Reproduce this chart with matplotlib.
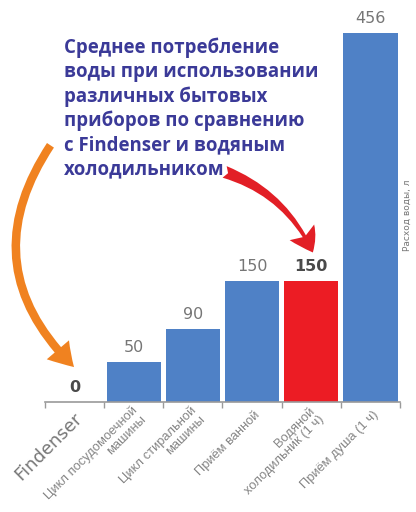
import matplotlib
matplotlib.use("Agg")
import matplotlib.pyplot as plt
from matplotlib.patches import FancyArrowPatch
import matplotlib.transforms as mtransforms
import numpy as np

# data
categories = ["Findenser",
              "Цикл посудомоечной\nмашины",
              "Цикл стиральной\nмашины",
              "Приём ванной",
              "Водяной\nхолодильник (1 ч)",
              "Приём душа (1 ч)"]
values = [0, 50, 90, 150, 150, 456]
highlight = 4  # водяной холодильник
title_lines = ["Среднее потребление",
               "воды при использовании",
               "различных бытовых",
               "приборов по сравнению",
               "с Findenser и водяным",
               "холодильником"]
ylabel = "Расход воды, л"

blue = "#4f81c6"
red = "#ec1c24"
ink = "#3b3a98"

W, H = 416, 512
fig = plt.figure(figsize=(W / 100, H / 100), dpi=100)
fig.patch.set_facecolor("white")
# axes in pixel terms: x 45..400, baseline y=402, top (456) at y=33
ax = fig.add_axes([45 / W, 1 - 402 / H, 355 / W, 369 / H])

x = np.arange(len(values))
colors = [red if i == highlight else blue for i in range(len(values))]
bars = ax.bar(x, values, width=0.92, color=colors, zorder=2)

for i, (b, v) in enumerate(zip(bars, values)):
    bold = i == 0 or i == highlight
    ax.annotate(str(v), (b.get_x() + b.get_width() / 2, v),
                xytext=(0, 5), textcoords="offset points",
                ha="center", va="bottom", fontsize=11.5,
                color="#4a4a4a" if bold else "#767676",
                fontweight="bold" if bold else "normal",
                annotation_clip=False)

ax.set_xlim(-0.5, len(values) - 0.5)
ax.set_ylim(0, 456)
for s in ["top", "left", "right"]:
    ax.spines[s].set_visible(False)
ax.spines["bottom"].set_color("#9a9a9a")
ax.spines["bottom"].set_linewidth(1.2)
ax.set_yticks([])
ax.set_xticks(np.arange(len(values) + 1) - 0.5)
ax.set_xticklabels([])
ax.tick_params(axis="x", length=4, color="#9a9a9a", width=1)

# rotated category labels
for i, lab in enumerate(categories):
    if i == 0:
        off = mtransforms.offset_copy(ax.get_xaxis_transform(), fig=fig,
                                      x=-1, y=-5, units="points")
        ax.text(i, 0, lab, transform=off, rotation=45, rotation_mode="anchor",
                ha="right", va="top", fontsize=13, color="#777777")
    else:
        off = mtransforms.offset_copy(ax.get_xaxis_transform(), fig=fig,
                                      x=4.5, y=-8, units="points")
        ax.text(i, 0, lab, transform=off, rotation=45, rotation_mode="anchor",
                ha="right", va="center", multialignment="right",
                fontsize=9.3, color="#858585", linespacing=1.0,
                family="Liberation Sans")

ax.text(1.02, 0.507, ylabel, transform=ax.transAxes, rotation=90,
        ha="center", va="center", fontsize=6.5, color="#777777")

# title block
fig.text(64 / W, 1 - 38 / H, "\n".join(title_lines), ha="left", va="top",
         fontsize=13.4, fontweight="bold", color=ink, linespacing=1.26,
         family="Open Sans")

# arrows (figure pixel coordinates)
px = mtransforms.Affine2D().scale(1 / W, 1 / H) + fig.transFigure
orange = FancyArrowPatch((52, H - 143), (76, H - 369), transform=px,
                         connectionstyle="arc3,rad=0.42",
                         arrowstyle="simple,head_length=1.7,head_width=2.1,tail_width=0.6",
                         mutation_scale=10, color="#f08220", lw=0)
fig.patches.append(orange)
redarrow = FancyArrowPatch((222, H - 171), (314, H - 255), transform=px,
                           connectionstyle="arc3,rad=-0.22",
                           arrowstyle="fancy,head_length=1.5,head_width=1.9,tail_width=0.8",
                           mutation_scale=11, color="#e21f26", lw=0)
fig.patches.append(redarrow)

fig.savefig("out.png", dpi=100)
